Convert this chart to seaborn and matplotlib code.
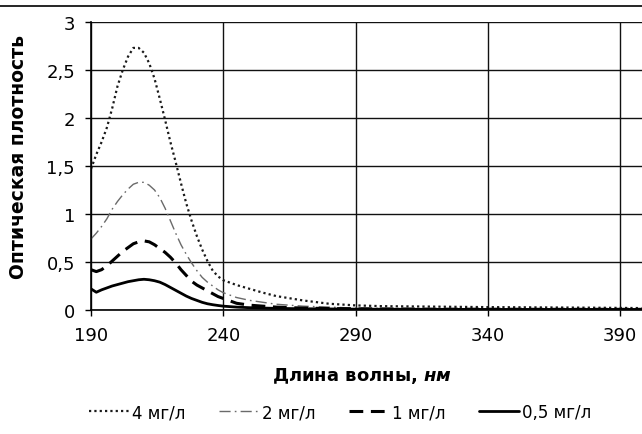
import pandas as pd
import matplotlib.pyplot as plt
import matplotlib.ticker as mticker
from matplotlib.lines import Line2D
import seaborn as sns

# длины волн, нм
wavelength = [190, 192, 194, 196, 198, 200, 202, 204, 206, 208, 210, 212, 214, 216, 218,
              220, 222, 224, 226, 228, 230, 232, 234, 236, 238, 240, 245, 250, 255, 260,
              270, 280, 290, 300, 320, 340, 360, 380, 398]

# оптическая плотность для каждой концентрации
od_4 = [1.47, 1.62, 1.75, 1.90, 2.10, 2.33, 2.50, 2.64, 2.73, 2.73, 2.68, 2.57, 2.41, 2.20, 1.98,
        1.75, 1.54, 1.32, 1.11, 0.93, 0.77, 0.63, 0.51, 0.41, 0.35, 0.31, 0.26, 0.22, 0.18, 0.145,
        0.10, 0.065, 0.048, 0.04, 0.035, 0.03, 0.027, 0.024, 0.02]
od_2 = [0.74, 0.80, 0.87, 0.95, 1.05, 1.13, 1.20, 1.26, 1.31, 1.33, 1.33, 1.30, 1.25, 1.17, 1.06,
        0.93, 0.80, 0.68, 0.58, 0.49, 0.41, 0.34, 0.29, 0.25, 0.21, 0.18, 0.13, 0.10, 0.08, 0.06,
        0.04, 0.03, 0.02, 0.017, 0.014, 0.012, 0.011, 0.01, 0.01]
od_1 = [0.42, 0.40, 0.42, 0.46, 0.51, 0.56, 0.61, 0.65, 0.69, 0.71, 0.72, 0.71, 0.68, 0.64, 0.60,
        0.55, 0.49, 0.42, 0.36, 0.30, 0.26, 0.23, 0.20, 0.17, 0.14, 0.12, 0.07, 0.05, 0.04, 0.03,
        0.02, 0.015, 0.012, 0.01, 0.008, 0.008, 0.007, 0.007, 0.007]
od_05 = [0.22, 0.185, 0.21, 0.23, 0.25, 0.265, 0.28, 0.295, 0.305, 0.315, 0.32, 0.315, 0.305, 0.29, 0.265,
         0.235, 0.205, 0.175, 0.145, 0.12, 0.10, 0.08, 0.065, 0.055, 0.047, 0.04, 0.03, 0.024, 0.02, 0.017,
         0.013, 0.011, 0.009, 0.008, 0.007, 0.006, 0.006, 0.006, 0.006]

labels = ['4 мг/л', '2 мг/л', '1 мг/л', '0,5 мг/л']
x_ticks = [190, 240, 290, 340, 390]
y_ticks = [0, 0.5, 1, 1.5, 2, 2.5, 3]

sns.set_style('white')
plt.rcParams['font.family'] = ['DejaVu Sans']
plt.rcParams['text.color'] = 'black'
plt.rcParams['axes.labelcolor'] = 'black'
plt.rcParams['xtick.color'] = 'black'
plt.rcParams['ytick.color'] = 'black'
plt.rcParams['mathtext.fontset'] = 'custom'
plt.rcParams['mathtext.it'] = 'DejaVu Sans:italic:bold'

fig = plt.figure(figsize=(6.42, 4.35), dpi=100)
ax = fig.add_axes([91 / 642, 1 - 311 / 435, 1 - 91 / 642, 288 / 435])

# стили линий
styles = [
    dict(color='#1a1a1a', lw=1.6, linestyle=(0, (1.0, 1.4))),
    dict(color='#6a6a6a', lw=1.0, linestyle=(0, (8, 3, 1.2, 3))),
    dict(color='black', lw=2.2, linestyle=(0, (4.5, 2.5))),
    dict(color='black', lw=2.0, linestyle='-'),
]

series = [od_4, od_2, od_1, od_05]
for vals, lab, st in zip(series, labels, styles):
    df = pd.DataFrame({'wl': wavelength, 'od': vals})
    sns.lineplot(data=df, x='wl', y='od', ax=ax, label=lab, **st)

ax.set_xlim(190, 398.2)
ax.set_ylim(0, 3)
ax.set_xticks(x_ticks)
ax.set_yticks(y_ticks)
ax.yaxis.set_major_formatter(mticker.FuncFormatter(lambda v, p: f'{v:g}'.replace('.', ',')))

ax.grid(True, color='#111111', lw=1.0)
ax.set_axisbelow(True)
for s in ['top', 'right']:
    ax.spines[s].set_visible(False)
for s in ['left', 'bottom']:
    ax.spines[s].set_color('black')
    ax.spines[s].set_linewidth(1.2)
ax.tick_params(axis='both', direction='out', length=4.5, width=1, color='black',
               labelsize=13, pad=7, bottom=True, left=True)

ax.set_ylabel('Оптическая плотность', fontsize=13.5, fontweight='bold', va='center')
ax.yaxis.set_label_coords((18.5 - 91) / 551, (311 - 157) / 288)
ax.set_xlabel('Длина волны, $\\mathit{нм}$', fontsize=13, fontweight='bold', va='center')
ax.xaxis.set_label_coords((362 - 91) / 551, (311 - 376) / 288)

handles, labs = ax.get_legend_handles_labels()
ax.legend_.remove()
fig.legend(handles, labs, loc='center', bbox_to_anchor=(0.53, 0.05), ncol=4, frameon=False,
           fontsize=12, handlelength=2.4, handletextpad=0.2, columnspacing=2.0)

# линия сверху страницы
fig.add_artist(Line2D([0, 1], [1 - 7 / 435, 1 - 7 / 435], transform=fig.transFigure,
                      color='black', lw=1.2))

fig.savefig('out.png', dpi=100)
